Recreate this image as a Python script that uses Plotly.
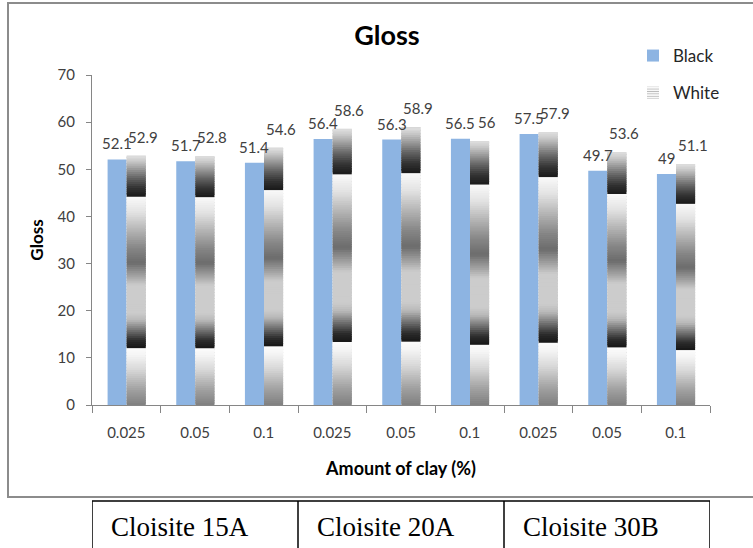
import plotly.graph_objects as go

# ---- data ----
groups = ["Cloisite 15A", "Cloisite 20A", "Cloisite 30B"]
clay_labels = ["0.025", "0.05", "0.1", "0.025", "0.05", "0.1", "0.025", "0.05", "0.1"]
black_vals = [52.1, 51.7, 51.4, 56.4, 56.3, 56.5, 57.5, 49.7, 49.0]
white_vals = [52.9, 52.8, 54.6, 58.6, 58.9, 56.0, 57.9, 53.6, 51.1]
y_ticks = [0, 10, 20, 30, 40, 50, 60, 70]

xs = list(range(len(clay_labels)))

FONT = "Lato, Open Sans, sans-serif"
BLUE = "#8DB4E2"
BW = 0.278           # bar width (category units)
B_OFF = -0.273       # black bar offset
W_OFF = 0.005        # white bar offset

W, H = 753, 548
L, T, PW, PH = 92, 75, 618, 330

# chrome-like gradient of the "White" bars (fraction of bar height, gray level)
stops = [
    (0.00, 128), (0.06, 160), (0.14, 215), (0.20, 245), (0.228, 252),
    (0.228, 22), (0.26, 45), (0.30, 115), (0.34, 185), (0.37, 204),
    (0.48, 204), (0.52, 160), (0.57, 108), (0.63, 135), (0.70, 180),
    (0.77, 225), (0.835, 250),
    (0.835, 25), (0.87, 50), (0.91, 100), (0.95, 160), (0.98, 205), (1.00, 222),
]

fig = go.Figure()

fig.add_trace(go.Bar(
    x=xs, y=black_vals, name="Black", marker=dict(color=BLUE, line=dict(width=0)),
    offset=B_OFF, width=BW, legendgroup="b", hoverinfo="skip",
))

# legend carrier for White (covered by gradient segments)
fig.add_trace(go.Bar(
    x=xs, y=white_vals, name="White", legendgroup="w",
    marker=dict(color="#f4f4f4", line=dict(width=0),
                pattern=dict(shape="-", fgcolor="#707070", bgcolor="#ffffff",
                             size=3, solidity=0.4)),
    offset=W_OFF, width=BW, hoverinfo="skip",
))

pieces = []
for (f0, l0), (f1, l1) in zip(stops[:-1], stops[1:]):
    if f1 - f0 <= 1e-9:
        continue
    n = max(1, round((f1 - f0) / 0.008))
    for k in range(n):
        a = f0 + (f1 - f0) * k / n
        b = f0 + (f1 - f0) * (k + 1) / n
        t = (k + 0.5) / n
        lev = int(round(l0 + (l1 - l0) * t))
        pieces.append((a, b, lev))

OVER = 0.006  # each piece reaches slightly into the next one to hide seams
for j, (a, b, lev) in enumerate(pieces):
    top = b if j == len(pieces) - 1 else min(1.0, b + OVER)
    fig.add_trace(go.Bar(
        x=xs, y=[v * (top - a) for v in white_vals], base=[v * a for v in white_vals],
        marker=dict(color=f"rgb({lev},{lev},{lev})", line=dict(width=0)),
        offset=W_OFF, width=BW, showlegend=False, hoverinfo="skip",
    ))

# data labels
for i, v in enumerate(black_vals):
    fig.add_annotation(x=i + B_OFF + BW / 2, y=v, text=f"{v:g}", showarrow=False,
                       yanchor="middle", yshift=16, xshift=0,
                       font=dict(family=FONT, size=15, color="#404040"))
for i, v in enumerate(white_vals):
    fig.add_annotation(x=i + W_OFF + BW / 2, y=v, text=f"{v:g}", showarrow=False,
                       yanchor="middle", yshift=19, xshift=7,
                       font=dict(family=FONT, size=15, color="#404040"))


def py(page_y):
    """page pixel y -> paper fraction"""
    return (T + PH - page_y) / PH


def px(page_x):
    return (page_x - L) / PW


# table of clay types below chart
n_per = len(clay_labels) // len(groups)
fig.add_shape(type="rect", xref="x", yref="paper", x0=-0.5, x1=len(xs) - 0.5,
              y0=py(501), y1=py(570), line=dict(color="black", width=1.5), layer="above")
for g in range(1, len(groups)):
    fig.add_shape(type="line", xref="x", yref="paper", x0=g * n_per - 0.5, x1=g * n_per - 0.5,
                  y0=py(501), y1=py(570), line=dict(color="black", width=1.5))
for g, name in enumerate(groups):
    fig.add_annotation(x=g * n_per - 0.5, xref="x", y=py(527), yref="paper", text=name,
                       showarrow=False, xanchor="left", yanchor="middle", xshift=17,
                       font=dict(family="Liberation Serif, Times New Roman, serif", size=27,
                                 color="black"))

# outer chart frame (right side lies beyond the picture)
fig.add_shape(type="rect", xref="paper", yref="paper",
              x0=px(8), x1=px(760), y0=py(497), y1=py(3),
              line=dict(color="#8c8c8c", width=2))

fig.update_layout(
    width=W, height=H,
    margin=dict(l=L, r=W - L - PW, t=T, b=H - T - PH, autoexpand=False),
    paper_bgcolor="white", plot_bgcolor="white",
    barmode="overlay",
    hovermode=False,
    title=dict(text="<b>Gloss</b>", x=387 / W, xanchor="center",
               y=1 - 36 / H, yanchor="middle",
               font=dict(family=FONT, size=27, color="black")),
    legend=dict(xref="container", yref="container", x=633 / W, y=1 - 38 / H,
                xanchor="left", yanchor="top", traceorder="grouped",
                tracegroupgap=12, bgcolor="rgba(0,0,0,0)",
                font=dict(family=FONT, size=17, color="#262626")),
    showlegend=True,
    xaxis=dict(range=[-0.5, len(xs) - 0.5], tickmode="array", tickvals=xs, ticktext=clay_labels,
               ticks="", showline=True, linecolor="#868686", linewidth=1, showgrid=False,
               zeroline=False, ticklabelstandoff=14, automargin=False,
               minor=dict(tickmode="array", tickvals=[i - 0.5 for i in range(len(xs) + 1)],
                          ticks="outside", ticklen=7, tickcolor="#868686", showgrid=False),
               tickfont=dict(family=FONT, size=15, color="#404040"),
               title=dict(text="<b>Amount of clay (%)</b>", standoff=22,
                          font=dict(family=FONT, size=18, color="black"))),
    yaxis=dict(range=[0, 70], tickmode="array", tickvals=y_ticks, ticks="outside", ticklen=5,
               tickcolor="#868686", showline=True, linecolor="#868686", linewidth=1,
               showgrid=False, zeroline=False, ticklabelstandoff=8, automargin=False,
               tickfont=dict(family=FONT, size=15, color="#404040"),
               title=dict(text="<b>Gloss</b>", standoff=9,
                          font=dict(family=FONT, size=17, color="black"))),
)

# remove the browser's default 8px page margin so the figure fills the window exactly
fig.write_html("out.html", config={"displayModeBar": False},
               post_script="document.body.style.margin='0px';document.body.style.overflow='hidden';")
